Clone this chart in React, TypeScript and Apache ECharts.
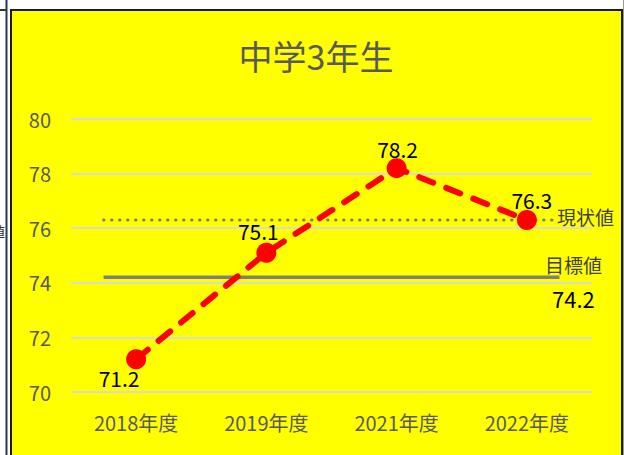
import React, { useEffect, useRef } from "react";
import * as echarts from "echarts";

const title = "中学3年生";
const categories = ["2018年度", "2019年度", "2021年度", "2022年度"];
const values = [71.2, 75.1, 78.2, 76.3];
const currentValue = 76.3;
const currentLabel = "現状値";
const targetValue = 74.2;
const targetLabel = "目標値";
const yTicks = { min: 70, max: 80, interval: 2 };

const FONT = "'Noto Sans CJK JP', 'Noto Sans', sans-serif";

export default function App() {
  const ref = useRef<HTMLDivElement>(null);
  useEffect(() => {
    if (!ref.current) return;
    const chart = echarts.init(ref.current, null, { renderer: "svg" });
    const labelCfg = [
      { position: "bottom", offset: [-17, -4] },
      { position: "top", offset: [-8, 1] },
      { position: "top", offset: [1, 3] },
      { position: "top", offset: [5, 2] },
    ];
    chart.setOption({
      animation: false,
      backgroundColor: "#ffffff",
      textStyle: { fontFamily: FONT },
      graphic: [
        { type: "line", shape: { x1: 6.5, y1: 0, x2: 6.5, y2: 455 }, style: { stroke: "#2b3845", lineWidth: 2 } },
        { type: "line", shape: { x1: 0, y1: 10, x2: 7, y2: 10 }, style: { stroke: "#2b3845", lineWidth: 2 } },
        { type: "text", x: -9, y: 231, style: { text: "値", fontSize: 14, fill: "#333", fontFamily: FONT, verticalAlign: "middle" } },
        { type: "rect", z: -10, shape: { x: 11, y: 10, width: 611, height: 470 }, style: { fill: "#FFFF00", stroke: "#1a1a1a", lineWidth: 2 } },
        { type: "line", shape: { x1: 623.5, y1: 0, x2: 623.5, y2: 455 }, style: { stroke: "#9a9a9a", lineWidth: 1 } },
        { type: "text", x: 316, y: 55, style: { text: title, fontSize: 34, fill: "#595959", fontFamily: FONT, align: "center", verticalAlign: "middle" } },
      ],
      grid: { left: 71, right: 32, top: 119, bottom: 63 },
      xAxis: [
        {
          type: "category",
          data: categories,
          boundaryGap: true,
          axisLine: { show: false },
          axisTick: { show: false },
          axisLabel: { color: "#595959", fontSize: 20, margin: 20, fontFamily: FONT },
        },
        { type: "value", min: 0, max: 4, show: false },
      ],
      yAxis: {
        type: "value",
        min: yTicks.min,
        max: yTicks.max,
        interval: yTicks.interval,
        axisLine: { show: false },
        axisTick: { show: false },
        axisLabel: { color: "#595959", fontSize: 20, margin: 20, fontFamily: FONT },
        splitLine: { lineStyle: { color: "#d9d9d9", width: 2 } },
      },
      series: [
        {
          type: "line",
          xAxisIndex: 1,
          data: [
            [0.25, currentValue],
            {
              value: [3.75, currentValue],
              label: {
                show: true,
                position: "right",
                distance: -3,
                offset: [0, -4],
                formatter: currentLabel,
                color: "#404040",
                fontSize: 19,
                fontFamily: FONT,
              },
            },
          ],
          symbol: "circle",
          symbolSize: 1,
          showSymbol: true,
          itemStyle: { color: "rgba(0,0,0,0)" },
          lineStyle: { color: "#7f7f7f", width: 3, type: [0.5, 7.5], cap: "round" },
          z: 2,
        },
        {
          type: "line",
          xAxisIndex: 1,
          data: [
            [0.25, targetValue],
            {
              value: [3.75, targetValue],
              label: {
                show: true,
                position: "inside",
                offset: [14, 4],
                formatter: "{a|" + targetLabel + "}\n{b|" + targetValue.toFixed(1) + "}",
                rich: {
                  a: { color: "#404040", fontSize: 19, lineHeight: 34, fontFamily: FONT, align: "center" },
                  b: { color: "#000000", fontSize: 22, lineHeight: 34, fontFamily: FONT, align: "center" },
                },
              },
            },
          ],
          symbol: "circle",
          symbolSize: 1,
          showSymbol: true,
          itemStyle: { color: "rgba(0,0,0,0)" },
          lineStyle: { color: "#7f7f7f", width: 3.5 },
          z: 2,
        },
        {
          type: "line",
          data: values.map((v, i) => ({
            value: v,
            label: {
              show: true,
              position: labelCfg[i].position,
              offset: labelCfg[i].offset,
              distance: 2,
              color: "#000000",
              fontSize: 21,
              fontFamily: FONT,
              formatter: (p: any) => Number(p.value).toFixed(1),
            },
          })),
          symbol: "circle",
          symbolSize: 20,
          itemStyle: { color: "#FF0000" },
          lineStyle: { color: "#FF0000", width: 6, type: [15, 14], cap: "round" },
          z: 5,
        },
      ],
    });
    return () => chart.dispose();
  }, []);
  return (
    <div
      ref={ref}
      style={{ position: "fixed", left: 0, top: 0, width: 624, height: 455 }}
    />
  );
}
